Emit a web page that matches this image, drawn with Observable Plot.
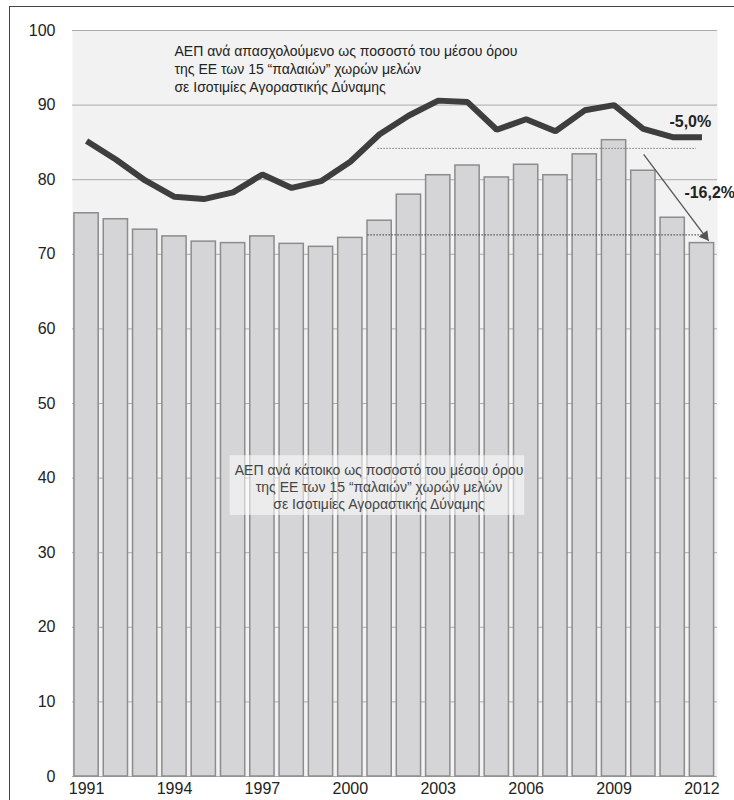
<!DOCTYPE html>
<html><head><meta charset="utf-8">
<script src="https://cdn.jsdelivr.net/npm/d3@7"></script>
<script src="https://cdn.jsdelivr.net/npm/@observablehq/plot@0.6"></script>
<style>
body{margin:0;background:#fff;}
#wrap{position:relative;width:734px;height:800px;overflow:hidden;}
#frame{position:absolute;left:9px;top:6px;width:724px;height:820px;border-left:1.5px solid #444;border-top:1.5px solid #444;pointer-events:none;}
svg{display:block;}
</style></head><body><div id="wrap"><div id="frame"></div></div>
<script>
const years = [1991,1992,1993,1994,1995,1996,1997,1998,1999,2000,2001,2002,2003,2004,2005,2006,2007,2008,2009,2010,2011,2012];
const gdpPerCapita = [75.5,74.7,73.3,72.4,71.7,71.5,72.4,71.4,71.0,72.2,74.5,78.0,80.6,81.9,80.3,82.0,80.6,83.4,85.3,81.2,74.9,71.5];
const gdpPerWorker = [85.2,82.7,79.9,77.7,77.4,78.3,80.7,78.9,79.8,82.4,86.1,88.6,90.6,90.4,86.7,88.1,86.5,89.3,90.0,86.8,85.7,85.7];
const yTicks = [0,10,20,30,40,50,60,70,80,90,100];
const xTicks = [1991,1994,1997,2000,2003,2006,2009,2012];
const topLabel = "ΑΕΠ ανά απασχολούμενο ως ποσοστό του μέσου όρου\nτης ΕΕ των 15 “παλαιών” χωρών μελών\nσε Ισοτιμίες Αγοραστικής Δύναμης";
const bottomLabel = "ΑΕΠ ανά κάτοικο ως ποσοστό του μέσου όρου\nτης ΕΕ των 15 “παλαιών” χωρών μελών\nσε Ισοτιμίες Αγοραστικής Δύναμης";
const changeLabels = ["-5,0%", "-16,2%"];
// annotation anchors (in data units)
const dottedLines = [
  {x1: 2000.94, x2: 2011.81, y: 84.2, color: "#777"},
  {x1: 2000.60, x2: 2012.25, y: 72.6, color: "#333"}
];
const arrowSpec = {x1: 2010.01, y1: 83.4, x2: 2012.23, y2: 71.8};
const arrowHead = {x: 2012.10, y: 72.47};
const labelBox = {x1: 1995.90, x2: 2005.95, y1: 35.0, y2: 43.0};

const barHalf = 0.414;
const data = years.map((year, i) => ({year, capita: gdpPerCapita[i], worker: gdpPerWorker[i]}));

const chart = Plot.plot({
  width: 734,
  height: 800,
  marginLeft: 72,
  marginRight: 17,
  marginTop: 30,
  marginBottom: 24,
  style: {fontFamily: "'Liberation Sans', Arial, sans-serif", fontSize: "16px", color: "#222", background: "transparent"},
  x: {type: "linear", domain: [1990.52, 2012.53]},
  y: {domain: [0, 100]},
  marks: [
    Plot.frame({fill: "#f2f2f2", stroke: "none"}),
    Plot.ruleY(yTicks, {stroke: "#ababab", strokeWidth: 1}),
    Plot.rect(data, {x1: d => d.year - barHalf, x2: d => d.year + barHalf, y1: 0, y2: "capita", fill: "#d5d5d7", stroke: "#8c8c8c", strokeWidth: 1.5}),
    Plot.ruleY(dottedLines, {x1: "x1", x2: "x2", y: "y", stroke: "color", strokeWidth: 1, strokeDasharray: "1.5,1.5"}),
    Plot.line(data, {x: "year", y: "worker", stroke: "#3e3e3e", strokeWidth: 6, strokeLinejoin: "miter", strokeLinecap: "butt"}),
    Plot.link([arrowSpec], {x1: "x1", y1: "y1", x2: "x2", y2: "y2", stroke: "#555", strokeWidth: 1.3}),
    Plot.dot([arrowHead], {x: "x", y: "y", symbol: "triangle", r: 4, rotate: 143, fill: "#555", stroke: "none"}),
    Plot.rect([labelBox], {x1: "x1", x2: "x2", y1: "y1", y2: "y2", fill: "#ffffff", fillOpacity: 0.55}),
    Plot.text([{x: 1994.0, y: 94.91, t: topLabel}], {x: "x", y: "y", text: "t", textAnchor: "start", lineAnchor: "middle", lineHeight: 1.29, fill: "#222", fontSize: 14}),
    Plot.text([{x: 2000.98, y: 38.87, t: bottomLabel}], {x: "x", y: "y", text: "t", textAnchor: "middle", lineAnchor: "middle", lineHeight: 1.22, fill: "#444", fontSize: 14}),
    Plot.text([{x: 2010.89, y: 87.7, t: changeLabels[0]}, {x: 2011.4, y: 78.2, t: changeLabels[1]}], {x: "x", y: "y", text: "t", textAnchor: "start", fill: "#222", fontSize: 16, fontWeight: "bold"}),
    Plot.axisY({ticks: yTicks, tickSize: 0, tickPadding: 17, fontSize: 16, fill: "#222"}),
    Plot.axisX({ticks: xTicks, tickSize: 0, tickPadding: 6, tickFormat: d => String(d), fontSize: 16, fill: "#222"})
  ]
});
document.getElementById("wrap").prepend(chart);
</script>
</body></html>
